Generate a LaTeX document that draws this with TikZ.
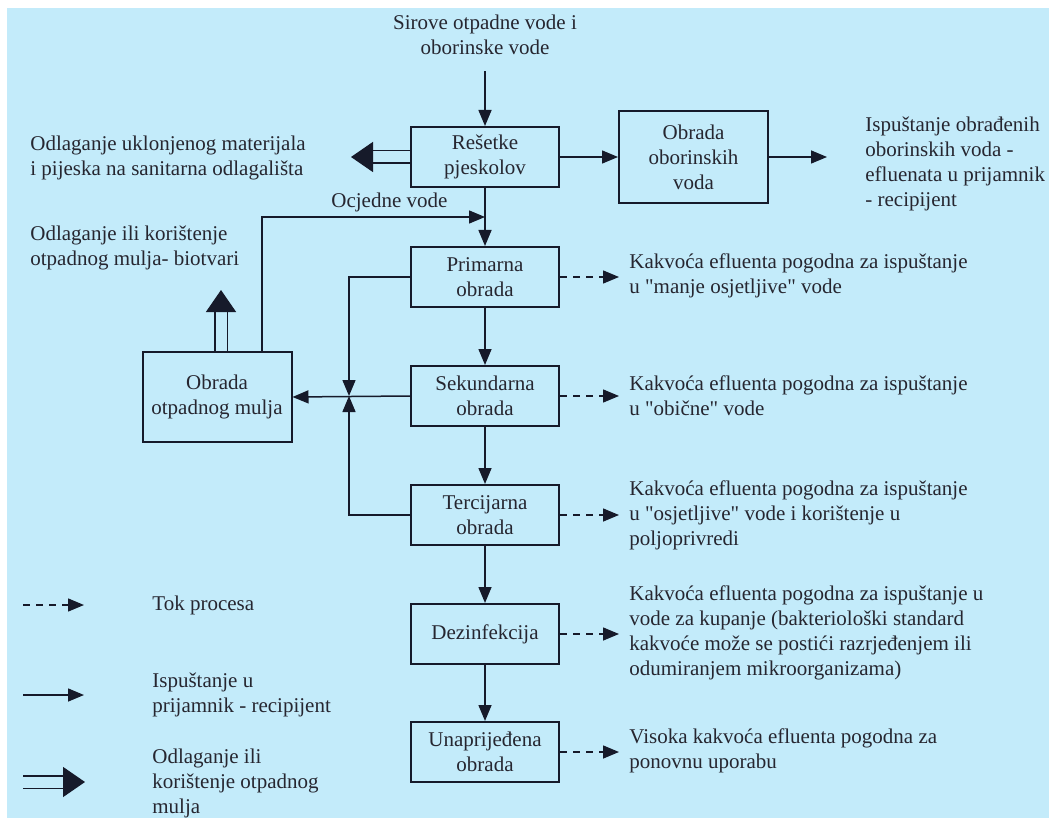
\documentclass[tikz,border=0pt]{standalone}
\usepackage{fontspec}
\setmainfont{Liberation Serif}[Ligatures=TeXOff]
\usetikzlibrary{arrows.meta}

\definecolor{pozadina}{RGB}{195,235,250}
\definecolor{linija}{RGB}{22,26,42}
\definecolor{tekst}{RGB}{38,38,48}

\begin{document}
\begin{tikzpicture}[x=0.5pt, y=-0.5pt,
    font=\fontsize{10.5}{12.5}\selectfont,
    box/.style={draw=linija, line width=1pt, minimum width=74pt, minimum height=30pt,
                align=center, text=tekst, inner sep=2pt},
    note/.style={anchor=west, align=left, text=tekst, inner sep=0pt},
    tok/.style={draw=linija, line width=0.75pt, -{Triangle[length=8pt,width=6.5pt]}},
    crtkano/.style={tok, dash pattern=on 3.5pt off 3pt, shorten >=5pt},
    mulj/.style={draw=linija, line width=0.75pt, double=pozadina, double distance=5.5pt,
                 -{Triangle[length=11pt,width=15pt]}},
  ]
  % pozadina
  \fill[white] (0,0) rectangle (1049,818);
  \fill[pozadina] (7,8) rectangle (1049,818);

  % procesni blokovi
  \node[box] (resetke) at (485,157) {Rešetke\\pjeskolov};
  \node[box, minimum width=74.5pt, minimum height=46pt] (oborinske) at (693.5,157) {Obrada\\oborinskih\\voda};
  \node[box] (primarna) at (485,277) {Primarna\\obrada};
  \node[box] (sekundarna) at (485,396) {Sekundarna\\obrada};
  \node[box] (tercijarna) at (485,515) {Tercijarna\\obrada};
  \node[box] (dezinf) at (485,634) {Dezinfekcija};
  \node[box] (unapr) at (485,752) {Unaprijeđena\\obrada};
  \node[box, minimum width=74.5pt, minimum height=45pt] (obradamulja) at (217,397) {Obrada\\otpadnog mulja};

  % tekstovi
  \node[align=center, text=tekst, inner sep=0pt] (ulaz) at (485,35) {Sirove otpadne vode i\\oborinske vode};
  \node[note] (prijamnik) at (865,164) {Ispuštanje obrađenih\\oborinskih voda -\\efluenata u prijamnik\\- recipijent};
  \node[note] (deponij) at (30,158) {Odlaganje uklonjenog materijala\\i pijeska na sanitarna odlagališta};
  \node[note] (ocjedne) at (331,202) {Ocjedne vode};
  \node[note] (biotvari) at (30,248) {Odlaganje ili korištenje\\otpadnog mulja- biotvari};
  \node[note] (kprimarna) at (629,276) {Kakvoća efluenta pogodna za ispuštanje\\u "manje osjetljive" vode};
  \node[note] (ksekundarna) at (629,396) {Kakvoća efluenta pogodna za ispuštanje\\u "obične" vode};
  \node[note] (ktercijarna) at (629,515) {Kakvoća efluenta pogodna za ispuštanje\\u "osjetljive" vode i korištenje u\\poljoprivredi};
  \node[note] (kdezinf) at (629,633) {Kakvoća efluenta pogodna za ispuštanje u\\vode za kupanje (bakteriološki standard\\kakvoće može se postići razrjeđenjem ili\\odumiranjem mikroorganizama)};
  \node[note] (kunapr) at (629,751) {Visoka kakvoća efluenta pogodna za\\ponovnu uporabu};

  % legenda
  \node[note] (leg1) at (152,605) {Tok procesa};
  \node[note] (leg2) at (152,695) {Ispuštanje u\\prijamnik - recipijent};
  \node[note] (leg3) at (152,783) {Odlaganje ili\\korištenje otpadnog\\mulja};
  \coordinate (l1a) at (23,605);
  \coordinate (l1b) at (84,605);
  \coordinate (l2a) at (23,695);
  \coordinate (l2b) at (84,695);
  \coordinate (l3a) at (23,782);
  \coordinate (l3b) at (85,782);

  % pomocne tocke
  \coordinate (spoj) at (349,396);
  \coordinate (ocjkraj) at (485,217);
  \coordinate (deponijvrh) at (351,157);
  \coordinate (biotvarivrh) at (221,290);
  \coordinate (izlaz) at (827,157);

  % glavni tok
  \draw[tok] ([yshift=-8pt]ulaz.south) -- (resetke.north);
  \draw[tok] (resetke.east) -- (oborinske.west);
  \draw[tok] (oborinske.east) -- (izlaz);
  \draw[tok] (resetke.south) -- (primarna.north);
  \draw[tok] (primarna.south) -- (sekundarna.north);
  \draw[tok] (sekundarna.south) -- (tercijarna.north);
  \draw[tok] (tercijarna.south) -- (dezinf.north);
  \draw[tok] (dezinf.south) -- (unapr.north);

  % mulj
  \draw[tok] (primarna.west) -| (spoj);
  \draw[tok] (tercijarna.west) -| (spoj);
  \draw[tok] (sekundarna.west) -- (obradamulja.east);
  \draw[tok] ([xshift=22.5pt]obradamulja.north) |- (ocjkraj);
  \draw[mulj] (resetke.west) -- (deponijvrh);
  \draw[mulj] (obradamulja.north -| biotvarivrh) -- (biotvarivrh);

  % efluenti
  \draw[crtkano] (primarna.east) -- (primarna.east -| kprimarna.west);
  \draw[crtkano] (sekundarna.east) -- (sekundarna.east -| ksekundarna.west);
  \draw[crtkano] (tercijarna.east) -- (tercijarna.east -| ktercijarna.west);
  \draw[crtkano] (dezinf.east) -- (dezinf.east -| kdezinf.west);
  \draw[crtkano] (unapr.east) -- (unapr.east -| kunapr.west);

  % legenda strelice
  \draw[crtkano, shorten >=0pt] (l1a) -- (l1b);
  \draw[tok] (l2a) -- (l2b);
  \draw[mulj] (l3a) -- (l3b);
\end{tikzpicture}
\end{document}
